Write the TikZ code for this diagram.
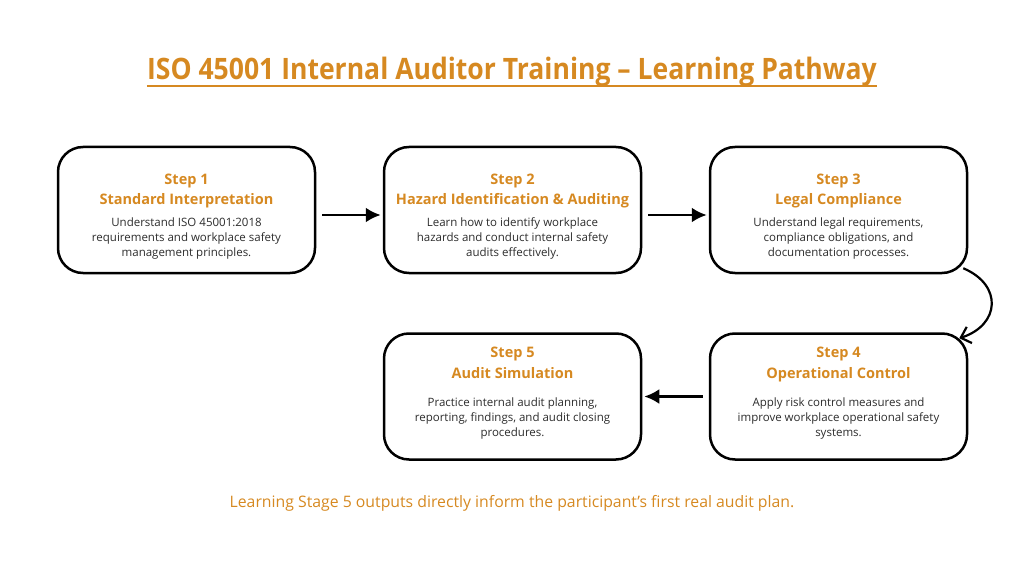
\documentclass[tikz,border=0pt]{standalone}
\usepackage{fontspec}
\setmainfont{Open Sans}
\newfontfamily\titlefont[FakeStretch=0.9]{Open Sans}
\usepackage{tikz}
\usetikzlibrary{positioning,shapes,arrows,arrows.meta}
\definecolor{pathorange}{RGB}{214,137,33}
\definecolor{bodygray}{RGB}{45,45,45}
\newcommand{\headfont}{\fontsize{14.5}{20}\selectfont\bfseries\color{pathorange}}
\tikzstyle{arrow} = [line width=2.8pt,-{Latex[length=15pt,width=15pt]},
    shorten <=6pt, shorten >=2pt]
\tikzstyle{bendarrow} = [line width=2.2pt,-{Straight Barb[length=9pt,width=17pt]}]
\tikzstyle{block} = [draw, fill=white, rectangle, rounded corners=25pt,
    line width=2.5pt, align=center, text=bodygray,
    font=\fontsize{11.5}{15}\selectfont,
    minimum height=126pt, minimum width=257pt]

\begin{document}
\begin{tikzpicture}[auto, x=1pt, y=1pt, node distance=326pt]
     \useasboundingbox (0,0) rectangle (1024,-569);
     \node [name=heading, text=pathorange, inner sep=0pt,
            font=\titlefont\bfseries\fontsize{29.5}{32}\selectfont] at (512,-72)
          {ISO 45001 Internal Auditor Training – Learning Pathway};
     \draw [pathorange, line width=1.8pt] ([yshift=-6pt]heading.base west) -- ([yshift=-6pt]heading.base east);

     \node [block] (step1) at (186.5,-210)
          {\rule{0pt}{23pt}{\headfont Step 1}\\[5pt]{\headfont Standard Interpretation}\\[7pt]
           Understand ISO 45001:2018\\requirements and workplace safety\\management principles.};
     \node [block, right of=step1] (step2)
          {\rule{0pt}{23pt}{\headfont Step 2}\\[5pt]{\headfont Hazard Identification \& Auditing}\\[7pt]
           Learn how to identify workplace\\hazards and conduct internal safety\\audits effectively.};
     \node [block, right of=step2] (step3)
          {\rule{0pt}{23pt}{\headfont Step 3}\\[5pt]{\headfont Legal Compliance}\\[7pt]
           Understand legal requirements,\\compliance obligations, and\\documentation processes.};
     \draw [arrow] ([yshift=-5pt]step1.east) -- ([yshift=-5pt]step2.west);
     \draw [arrow] ([yshift=-5pt]step2.east) -- ([yshift=-5pt]step3.west);

     \node [block, below of=step3, yshift=139.5pt] (step4)
          {{\headfont Step 4}\\[6pt]{\headfont Operational Control}\\[13pt]
           Apply risk control measures and\\improve workplace operational safety\\systems.\rule[-9pt]{0pt}{0pt}};
     \node [block, left of=step4] (step5)
          {{\headfont Step 5}\\[6pt]{\headfont Audit Simulation}\\[13pt]
           Practice internal audit planning,\\reporting, findings, and audit closing\\procedures.\rule[-9pt]{0pt}{0pt}};
     \draw [arrow] (step4) -- (step5);

     % bend from step 3 down to step 4
     \coordinate (bendstart) at ([shift={(-5pt,6pt)}]step3.south east);
     \coordinate (bendend) at ([shift={(-9pt,-6pt)}]step4.north east);
     \draw [bendarrow] (bendstart) .. controls (1003,-285) and (1000,-325) .. (bendend);

     \node [name=note, text=pathorange, font=\fontsize{15.8}{18}\selectfont] at (512,-503)
          {Learning Stage 5 outputs directly inform the participant’s first real audit plan.};
\end{tikzpicture}
\end{document}
